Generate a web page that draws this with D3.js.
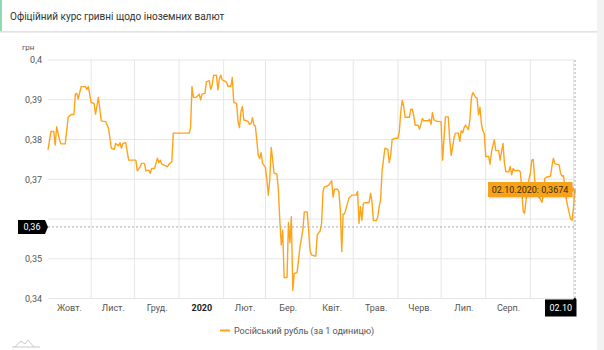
<!DOCTYPE html>
<html>
<head>
<meta charset="utf-8">
<script src="https://cdn.jsdelivr.net/npm/d3@7"></script>
<style>
  html, body { margin: 0; padding: 0; background: #fff; }
  svg { display: block; font-family: Roboto, "Noto Sans", sans-serif; }
</style>
</head>
<body>
<svg id="chart" width="604" height="350"></svg>
<script>
const title = "Офіційний курс гривні щодо іноземних валют";
const unitLabel = "грн";
const seriesName = "Російський рубль (за 1 одиницю)";
// last month label ("Вер.") is hidden under the cursor date label in the reference
const monthLabels = ["Жовт.", "Лист.", "Груд.", "2020", "Лют.", "Бер.", "Квіт.", "Трав.", "Черв.", "Лип.", "Серп.", ""];
const yTicks = [0.34, 0.35, 0.36, 0.37, 0.38, 0.39, 0.40];
const yTickLabels = ["0,34", "0,35", "", "0,37", "0,38", "0,39", "0,4"];
const cursorDate = "2020-10-02";
const cursorYValue = 0.358;

const dates = [
"2019-10-02","2019-10-04","2019-10-06","2019-10-07","2019-10-08","2019-10-10","2019-10-11","2019-10-14","2019-10-16","2019-10-18",
"2019-10-20","2019-10-21","2019-10-22","2019-10-23","2019-10-25","2019-10-28","2019-10-29","2019-10-30","2019-11-01","2019-11-03",
"2019-11-04","2019-11-06","2019-11-08","2019-11-11","2019-11-13","2019-11-15","2019-11-17","2019-11-18","2019-11-20","2019-11-21",
"2019-11-22","2019-11-23","2019-11-25","2019-11-27","2019-12-02","2019-12-03","2019-12-05","2019-12-06","2019-12-08","2019-12-09",
"2019-12-11","2019-12-12","2019-12-13","2019-12-15","2019-12-17","2019-12-18","2019-12-19","2019-12-20","2019-12-22","2019-12-24",
"2019-12-25","2019-12-27","2019-12-28","2020-01-08","2020-01-09","2020-01-10","2020-01-11","2020-01-13","2020-01-15","2020-01-16",
"2020-01-17","2020-01-19","2020-01-20","2020-01-22","2020-01-23","2020-01-24","2020-01-25","2020-01-27","2020-01-28","2020-01-29",
"2020-01-30","2020-01-31","2020-02-02","2020-02-03","2020-02-04","2020-02-05","2020-02-06","2020-02-07","2020-02-08","2020-02-10",
"2020-02-11","2020-02-12","2020-02-13","2020-02-14","2020-02-15","2020-02-17","2020-02-18","2020-02-19","2020-02-20","2020-02-21",
"2020-02-22","2020-02-23","2020-02-24","2020-02-25","2020-02-26","2020-02-27","2020-02-28","2020-03-01","2020-03-02","2020-03-03",
"2020-03-04","2020-03-05","2020-03-06","2020-03-07","2020-03-09","2020-03-10","2020-03-11","2020-03-12","2020-03-13","2020-03-14",
"2020-03-16","2020-03-17","2020-03-18","2020-03-19","2020-03-20","2020-03-21","2020-03-23","2020-03-24","2020-03-25","2020-03-26",
"2020-03-27","2020-03-28","2020-03-30","2020-03-31","2020-04-01","2020-04-02","2020-04-04","2020-04-05","2020-04-06","2020-04-07",
"2020-04-08","2020-04-09","2020-04-10","2020-04-11","2020-04-13","2020-04-14","2020-04-15","2020-04-16","2020-04-17","2020-04-18",
"2020-04-20","2020-04-21","2020-04-22","2020-04-23","2020-04-24","2020-04-25","2020-04-27","2020-04-28","2020-04-30","2020-05-03",
"2020-05-04","2020-05-05","2020-05-06","2020-05-07","2020-05-08","2020-05-09","2020-05-12","2020-05-13","2020-05-14","2020-05-15",
"2020-05-17","2020-05-18","2020-05-19","2020-05-20","2020-05-21","2020-05-22","2020-05-23","2020-05-25","2020-05-26","2020-05-27",
"2020-05-28","2020-05-30","2020-06-01","2020-06-02","2020-06-03","2020-06-04","2020-06-05","2020-06-06","2020-06-09","2020-06-10",
"2020-06-11","2020-06-12","2020-06-13","2020-06-15","2020-06-16","2020-06-17","2020-06-18","2020-06-19","2020-06-22","2020-06-23",
"2020-06-24","2020-06-25","2020-06-26","2020-06-27","2020-06-30","2020-07-01","2020-07-02","2020-07-03","2020-07-04","2020-07-06",
"2020-07-07","2020-07-08","2020-07-09","2020-07-10","2020-07-11","2020-07-13","2020-07-14","2020-07-15","2020-07-16","2020-07-17",
"2020-07-18","2020-07-20","2020-07-21","2020-07-22","2020-07-23","2020-07-24","2020-07-25","2020-07-26","2020-07-27","2020-07-28",
"2020-07-29","2020-07-30","2020-07-31","2020-08-01","2020-08-03","2020-08-04","2020-08-05","2020-08-06","2020-08-07","2020-08-08",
"2020-08-10","2020-08-11","2020-08-12","2020-08-13","2020-08-14","2020-08-15","2020-08-17","2020-08-18","2020-08-19","2020-08-20",
"2020-08-21","2020-08-24","2020-08-25","2020-08-26","2020-08-27","2020-08-28","2020-08-29","2020-08-31","2020-09-01","2020-09-02",
"2020-09-03","2020-09-04","2020-09-05","2020-09-07","2020-09-08","2020-09-09","2020-09-10","2020-09-11","2020-09-12","2020-09-14",
"2020-09-15","2020-09-16","2020-09-17","2020-09-18","2020-09-19","2020-09-21","2020-09-22","2020-09-23","2020-09-24","2020-09-25",
"2020-09-26","2020-09-28","2020-09-29","2020-09-30","2020-10-01","2020-10-02"
];

const rubRates = [
0.3774,0.3820,0.3820,0.3786,0.3832,0.3799,0.3789,0.3789,0.3856,0.3863,
0.3863,0.3914,0.3916,0.3902,0.3933,0.3933,0.3926,0.3933,0.3893,0.3891,
0.3864,0.3906,0.3847,0.3845,0.3828,0.3778,0.3775,0.3790,0.3784,0.3792,
0.3778,0.3790,0.3792,0.3748,0.3748,0.3721,0.3732,0.3740,0.3740,0.3721,
0.3723,0.3715,0.3727,0.3727,0.3753,0.3742,0.3748,0.3738,0.3735,0.3732,
0.3738,0.3744,0.3816,0.3816,0.3828,0.3933,0.3906,0.3906,0.3914,0.3900,
0.3914,0.3916,0.3945,0.3948,0.3926,0.3937,0.3961,0.3962,0.3925,0.3952,
0.3962,0.3950,0.3946,0.3944,0.3933,0.3935,0.3933,0.3956,0.3893,0.3891,
0.3845,0.3830,0.3870,0.3883,0.3849,0.3847,0.3845,0.3838,0.3840,0.3855,
0.3836,0.3834,0.3799,0.3760,0.3752,0.3767,0.3740,0.3730,0.3700,0.3660,
0.3698,0.3780,0.3750,0.3715,0.3713,0.3673,0.3597,0.3535,0.3572,0.3453,
0.3453,0.3591,0.3540,0.3606,0.3420,0.3463,0.3465,0.3497,0.3530,0.3551,
0.3572,0.3618,0.3618,0.3572,0.3520,0.3510,0.3507,0.3507,0.3560,0.3566,
0.3570,0.3589,0.3670,0.3681,0.3683,0.3685,0.3691,0.3696,0.3655,0.3675,
0.3675,0.3669,0.3623,0.3518,0.3613,0.3613,0.3640,0.3652,0.3660,0.3660,
0.3669,0.3589,0.3631,0.3597,0.3639,0.3641,0.3641,0.3665,0.3644,0.3596,
0.3596,0.3605,0.3631,0.3648,0.3720,0.3750,0.3778,0.3775,0.3742,0.3760,
0.3800,0.3803,0.3803,0.3820,0.3870,0.3898,0.3885,0.3856,0.3856,0.3876,
0.3876,0.3860,0.3836,0.3836,0.3826,0.3838,0.3853,0.3847,0.3847,0.3851,
0.3838,0.3868,0.3850,0.3847,0.3845,0.3845,0.3748,0.3800,0.3857,0.3857,
0.3799,0.3760,0.3780,0.3805,0.3816,0.3816,0.3795,0.3822,0.3817,0.3830,
0.3836,0.3825,0.3850,0.3904,0.3918,0.3912,0.3906,0.3904,0.3862,0.3881,
0.3840,0.3822,0.3815,0.3757,0.3758,0.3738,0.3769,0.3785,0.3799,0.3772,
0.3772,0.3748,0.3770,0.3790,0.3740,0.3719,0.3719,0.3732,0.3711,0.3727,
0.3722,0.3722,0.3719,0.3680,0.3620,0.3614,0.3648,0.3700,0.3715,0.3748,
0.3750,0.3700,0.3669,0.3655,0.3650,0.3642,0.3660,0.3702,0.3705,0.3707,
0.3708,0.3733,0.3753,0.3740,0.3738,0.3736,0.3715,0.3708,0.3709,0.3680,
0.3648,0.3614,0.3600,0.3597,0.3631,0.3674
];

const parse = d3.timeParse("%Y-%m-%d");
const data = dates.map((d, i) => ({ date: parse(d), value: rubRates[i] }));

const svg = d3.select("#chart");
const W = 604, H = 350;
const plot = { left: 48, right: 575, top: 60, bottom: 298.5 };
const lineColor = "#ffa31a";

// page background pieces
svg.append("rect").attr("x", 0).attr("y", 0).attr("width", W).attr("height", H).attr("fill", "#ffffff");
svg.append("rect").attr("x", 597).attr("y", 0).attr("width", 7).attr("height", H).attr("fill", "#f2f2f2");

// header panel
svg.append("rect").attr("x", 0).attr("y", 31).attr("width", 597).attr("height", 2).attr("fill", "#ececec");
svg.append("rect").attr("x", 0).attr("y", 31).attr("width", 597).attr("height", 1).attr("fill", "#e2e2e2");
svg.append("rect").attr("x", 0).attr("y", 0).attr("width", 2).attr("height", 31).attr("fill", "#8fd9b6");
svg.append("text").attr("x", 10).attr("y", 19.5)
  .attr("font-size", 10).attr("fill", "#333").text(title);

const x = d3.scaleTime()
  .domain([parse("2019-10-02"), parse("2020-10-02")])
  .range([plot.left, plot.right]);
const y = d3.scaleLinear().domain([0.34, 0.40]).range([plot.bottom, plot.top]);

// horizontal grid
svg.append("g").selectAll("line").data(yTicks).join("line")
  .attr("x1", plot.left).attr("x2", plot.right)
  .attr("y1", d => y(d)).attr("y2", d => y(d))
  .attr("stroke", "#e6e6e6").attr("stroke-width", 1);

// vertical grid at month starts
const monthStarts = d3.timeMonth.range(d3.timeMonth.ceil(x.domain()[0]), x.domain()[1]);
svg.append("g").selectAll("line").data(monthStarts).join("line")
  .attr("x1", d => x(d)).attr("x2", d => x(d))
  .attr("y1", plot.top).attr("y2", plot.bottom)
  .attr("stroke", "#e6e6e6").attr("stroke-width", 1);

// y axis labels
const fmtY = v => d3.format(".2~f")(v).replace(".", ",");
const yAxis = d3.axisLeft(y).tickValues(yTicks).tickSize(0).tickPadding(6)
  .tickFormat((v, i) => yTickLabels[i]);
const gy = svg.append("g").attr("transform", `translate(${plot.left},0)`).call(yAxis);
gy.select(".domain").remove();
gy.selectAll("text").attr("font-size", 9).attr("fill", "#555").attr("font-family", "Roboto, sans-serif");

svg.append("text").attr("x", 22).attr("y", 49.5).attr("font-size", 8).attr("fill", "#555").text(unitLabel);

// x axis labels, centred in month cells
const monthMids = d3.timeMonth.range(d3.timeMonth.floor(x.domain()[0]), x.domain()[1])
  .map(m => new Date((+m + +d3.timeMonth.offset(m, 1)) / 2));
const xAxis = d3.axisBottom(x).tickValues(monthMids).tickSize(0).tickPadding(6)
  .tickFormat((d, i) => monthLabels[i]);
const gx = svg.append("g").attr("transform", `translate(0,${plot.bottom})`).call(xAxis);
gx.select(".domain").remove();
gx.selectAll("text").attr("font-size", 9).attr("font-family", "Roboto, sans-serif")
  .attr("font-weight", (d, i) => monthLabels[i] === "2020" ? "bold" : null)
  .attr("fill", (d, i) => monthLabels[i] === "2020" ? "#222" : "#555");

// series line
const line = d3.line().x(d => x(d.date)).y(d => y(d.value));
svg.append("path").datum(data)
  .attr("fill", "none").attr("stroke", lineColor).attr("stroke-width", 1.4)
  .attr("stroke-linejoin", "round").attr("d", line);

// cursor lines
const cx = x(parse(cursorDate));
const cy = y(cursorYValue);
svg.append("line").attr("x1", plot.left).attr("x2", plot.right).attr("y1", cy).attr("y2", cy)
  .attr("stroke", "#aaa").attr("stroke-width", 1).attr("stroke-dasharray", "2,2");
svg.append("line").attr("x1", cx).attr("x2", cx).attr("y1", plot.top).attr("y2", plot.bottom)
  .attr("stroke", "#aaa").attr("stroke-width", 1).attr("stroke-dasharray", "2,2");

// y cursor label
const yl = svg.append("g");
yl.append("path").attr("d", `M18,${cy - 7} H45 L48,${cy} L45,${cy + 7} H18 Z`).attr("fill", "#000");
yl.append("text").attr("x", 32).attr("y", cy + 3.2).attr("text-anchor", "middle")
  .attr("font-size", 9).attr("fill", "#fff").text(fmtY(Math.round(cursorYValue * 100) / 100));

// x cursor label
const xl = svg.append("g");
xl.append("path").attr("d", `M545,${plot.bottom + 1} H${cx - 2} L${cx},${plot.bottom - 1} L${cx + 1.5},${plot.bottom + 1} V${plot.bottom + 18} H545 Z`).attr("fill", "#000");
xl.append("text").attr("x", (545 + cx + 1.5) / 2).attr("y", plot.bottom + 12.5).attr("text-anchor", "middle")
  .attr("font-size", 9).attr("fill", "#fff").text(d3.timeFormat("%d.%m")(parse(cursorDate)));

// tooltip
const last = data[data.length - 1];
const ty = y(last.value);
const tt = svg.append("g");
tt.append("path").attr("d", `M488,${ty - 7.5} H572.5 V${ty - 2.5} L${cx},${ty} L572.5,${ty + 2.5} V${ty + 7.5} H488 Z`)
  .attr("fill", "#000").attr("opacity", 0.12).attr("transform", "translate(1,1.5)");
tt.append("path").attr("d", `M488,${ty - 7.5} H572.5 V${ty - 2.5} L${cx},${ty} L572.5,${ty + 2.5} V${ty + 7.5} H488 Z`)
  .attr("fill", "#f7a21b");
tt.append("text").attr("x", 530).attr("y", ty + 3.3).attr("text-anchor", "middle")
  .attr("font-size", 9).attr("fill", "#3b2a05")
  .text(d3.timeFormat("%d.%m.%Y")(last.date) + ": " + String(last.value).replace(".", ","));

// legend
svg.append("line").attr("x1", 220).attr("x2", 230).attr("y1", 330.5).attr("y2", 330.5)
  .attr("stroke", lineColor).attr("stroke-width", 2);
svg.append("text").attr("x", 234).attr("y", 333.5).attr("font-size", 9).attr("fill", "#555").text(seriesName);

// small logo mark bottom-left
svg.append("path").attr("d", "M12,347 H40 M15,347 L21,341 L25,344 L28,340 L34,347")
  .attr("fill", "none").attr("stroke", "#bbb").attr("stroke-width", 0.8);
</script>
</body>
</html>
